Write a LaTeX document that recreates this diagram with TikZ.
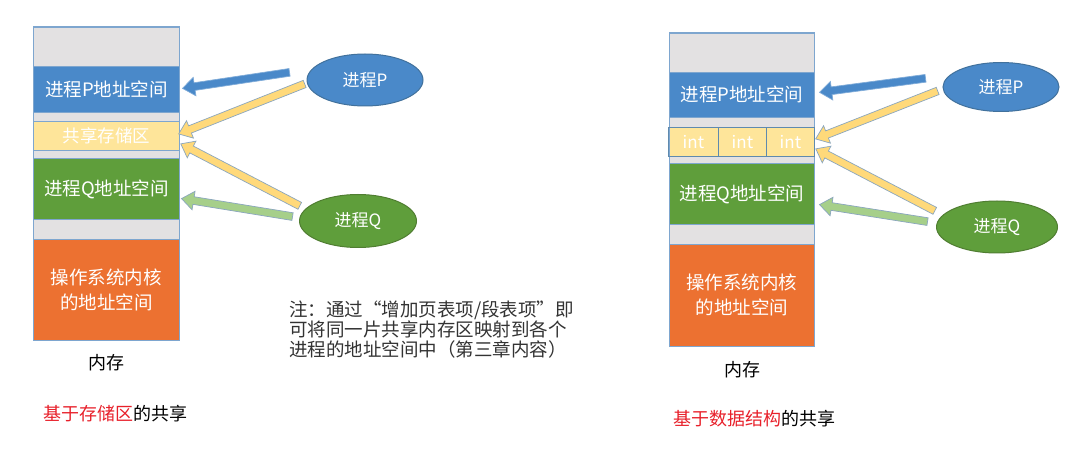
\documentclass[tikz,border=0pt]{standalone}
\usepackage{fontspec}
\setmainfont{Noto Sans CJK SC}
\usetikzlibrary{shapes.geometric,shapes.arrows,calc}
\definecolor{bandgray}{HTML}{E3E1E2}
\definecolor{pblue}{HTML}{4A89C9}
\definecolor{qgreen}{HTML}{5F9E3B}
\definecolor{korange}{HTML}{EC7131}
\definecolor{syellow}{HTML}{FEE59A}
\definecolor{colborder}{HTML}{7EA6CF}
\definecolor{cellborder}{HTML}{5F8AAE}
\definecolor{pbluedark}{HTML}{41719C}
\definecolor{qgreendark}{HTML}{507E32}
\definecolor{arrowyellow}{HTML}{FFD97A}
\definecolor{arrowgreen}{HTML}{A6CF8A}
\definecolor{arrowline}{HTML}{8AA6BE}
\definecolor{notetext}{HTML}{333333}
\definecolor{redtext}{HTML}{E8202A}
\tikzset{
  band/.style={draw=colborder, line width=0.8pt, anchor=north west, minimum width=146pt,
    inner sep=0pt, text=white, align=center, font=\fontsize{18.5}{25}\selectfont},
  cell/.style={draw=cellborder, line width=0.9pt, anchor=north west, fill=syellow,
    minimum height=29pt, inner sep=0pt, text=white, font=\fontsize{17}{20}\selectfont},
  proc/.style={ellipse, line width=1pt, inner sep=0pt, text=white,
    font=\fontsize{17}{20}\selectfont},
  barrow/.style={single arrow, draw=arrowline, line width=0.7pt, inner sep=3.5pt,
    text height=0pt, text depth=0pt, text width=0pt,
    single arrow head extend=5.5pt, single arrow tip angle=75, shape border uses incircle=false},
  lbl/.style={font=\fontsize{18}{22}\selectfont, text=black, inner sep=0pt},
}
\newcommand\blockarrow[4]{%
  \path let \p1=($(#4)-(#3)$), \n1={veclen(\x1,\y1)}, \n2={atan2(\y1,\x1)} in
    node[barrow, #1, rotate=\n2, minimum height=\n1] (#2) at ($(#3)!0.5!(#4)$) {};}
\begin{document}
\begin{tikzpicture}[x=1pt, y=-1pt]
\useasboundingbox (0,0) rectangle (1090,449);
\fill[white] (0,0) rectangle (1090,449);

% ---------- left memory column ----------
\node[band, fill=bandgray, minimum height=313pt] (Lcol) at (33,27) {};
\node[band, fill=pblue, minimum height=46pt] (LP) at (33,66) {进程P地址空间};
\node[band, fill=syellow, minimum height=29pt, font=\fontsize{17.5}{20}\selectfont] (LS) at (33,121) {共享存储区};
\node[band, fill=qgreen, minimum height=61pt] (LQ) at (33,158) {进程Q地址空间};
\node[band, fill=korange, minimum height=101pt, font=\fontsize{18.5}{25}\selectfont] (LK) at (33,239) {操作系统内核\\的地址空间};
\draw[colborder, line width=1pt] (Lcol.north west) rectangle (Lcol.south east);

\node[lbl] (Lmem) at (106,363) {内存};
\node[lbl, anchor=west] (Ltitle) at (43,414) {\textcolor{redtext}{基于存储区}的共享};

\node[proc, fill=pblue, draw=pbluedark, minimum width=116pt, minimum height=52pt] (LPP) at (365,80) {进程P};
\node[proc, fill=qgreen, draw=qgreendark, minimum width=117pt, minimum height=53pt] (LQQ) at (358,221) {进程Q};

\coordinate (la1) at (292,72);  \coordinate (la2) at (185,88);
\coordinate (lb1) at (307,83);  \coordinate (lb2) at (181,133);
\coordinate (lc1) at (302,207); \coordinate (lc2) at (183,145);
\coordinate (ld1) at (295,217); \coordinate (ld2) at (184,199);
\blockarrow{fill=pblue, draw=pblue!70!white}{LA}{la1}{la2}
\blockarrow{fill=arrowyellow}{LB}{lb1}{lb2}
\blockarrow{fill=arrowyellow}{LC}{lc1}{lc2}
\blockarrow{fill=arrowgreen}{LD}{ld1}{ld2}

% ---------- note ----------
\node[anchor=north west, align=left, inner sep=0pt, text=notetext,
  font=\fontsize{18.5}{20}\selectfont] (note) at (289,301)
  {注：通过“增加页表项/段表项”即\\可将同一片共享内存区映射到各个\\进程的地址空间中（第三章内容）};

% ---------- right memory column ----------
\node[band, fill=bandgray, minimum width=145pt, minimum height=313pt] (Rcol) at (669,33) {};
\node[band, fill=pblue, minimum width=145pt, minimum height=45pt] (RP) at (669,72) {进程P地址空间};
\node[cell, minimum width=50pt] (RI1) at (668,127) {int};
\node[cell, minimum width=48pt] (RI2) at (718,127) {int};
\node[cell, minimum width=48pt] (RI3) at (766,127) {int};
\node[band, fill=qgreen, minimum width=145pt, minimum height=61pt] (RQ) at (669,163) {进程Q地址空间};
\node[band, fill=korange, minimum width=145pt, minimum height=102pt, font=\fontsize{18.5}{25}\selectfont] (RK) at (669,244) {操作系统内核\\的地址空间};
\draw[colborder, line width=1pt] (Rcol.north west) rectangle (Rcol.south east);
\draw[cellborder, line width=0.9pt] (RI1.north west) rectangle (RI3.south east);

\node[lbl] (Rmem) at (742,370) {内存};
\node[lbl, anchor=west] (Rtitle) at (673,419) {\textcolor{redtext}{基于数据结构}的共享};

\node[proc, fill=pblue, draw=pbluedark, minimum width=116pt, minimum height=49pt] (RPP) at (1001,87) {进程P};
\node[proc, fill=qgreen, draw=qgreendark, minimum width=121pt, minimum height=52pt] (RQQ) at (997,227) {进程Q};

\coordinate (ra1) at (928,78);  \coordinate (ra2) at (822,92);
\coordinate (rb1) at (940,90);  \coordinate (rb2) at (818,138);
\coordinate (rc1) at (937,212); \coordinate (rc2) at (818,150);
\coordinate (rd1) at (930,222); \coordinate (rd2) at (822,205);
\blockarrow{fill=pblue, draw=pblue!70!white}{RA}{ra1}{ra2}
\blockarrow{fill=arrowyellow}{RB}{rb1}{rb2}
\blockarrow{fill=arrowyellow}{RC}{rc1}{rc2}
\blockarrow{fill=arrowgreen}{RD}{rd1}{rd2}
\end{tikzpicture}
\end{document}
